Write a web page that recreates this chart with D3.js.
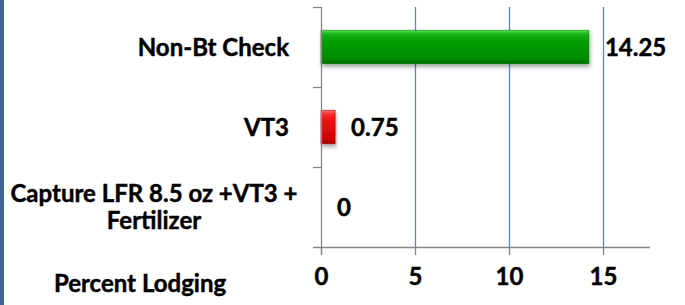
<!DOCTYPE html>
<html>
<head>
<meta charset="utf-8">
<script src="https://cdn.jsdelivr.net/npm/d3@7"></script>
<style>
  body { margin: 0; background: #fff; }
  svg { display: block; font-family: Lato, "Open Sans", sans-serif; font-weight: bold; }
  text { stroke: #000; stroke-width: 0.45px; }
</style>
</head>
<body>
<svg width="685" height="305"></svg>
<script>
// chart data
const categories = ['Non-Bt Check', 'VT3', 'Capture LFR 8.5 oz +VT3 +|Fertilizer'];
const values = [14.25, 0.75, 0];
const barColors = ['green', 'red', 'red'];
const xTicks = [0, 5, 10, 15];
const axisTitle = 'Percent Lodging';

const svg = d3.select('svg');
const width = 685, height = 305;
const fontSize = 24;

// left blue edge strip
svg.append('rect').attr('x', 0).attr('y', 0).attr('width', 4).attr('height', height).attr('fill', '#41679a');

const plot = { left: 321, right: 650, top: 7, bottom: 247 };

const x = d3.scaleLinear().domain([0, 17.5]).range([plot.left, plot.right]);
const y = d3.scaleBand().domain(categories).range([plot.top, plot.bottom]).paddingInner(0.58).paddingOuter(0.29);

const defs = svg.append('defs');
const grads = {
  green: ['#5be65b', '#17b417', '#06a006', '#048a04', '#036a03'],
  red: ['#ff7a7a', '#ff2a2a', '#f01010', '#d00000', '#a00000']
};
Object.entries(grads).forEach(([k, c]) => {
  const g = defs.append('linearGradient').attr('id', 'grad-' + k).attr('x1', 0).attr('y1', 0).attr('x2', 0).attr('y2', 1);
  [[0, c[0]], [0.12, c[1]], [0.3, c[2]], [0.85, c[3]], [1, c[4]]].forEach(([o, col]) => {
    g.append('stop').attr('offset', o).attr('stop-color', col);
  });
});
const shadow = defs.append('filter').attr('id', 'shadow').attr('x', -0.1).attr('y', -0.3).attr('width', 1.3).attr('height', 1.8);
shadow.append('feGaussianBlur').attr('in', 'SourceAlpha').attr('stdDeviation', 2);
shadow.append('feOffset').attr('dx', 1).attr('dy', 3).attr('result', 'b');
shadow.append('feComponentTransfer').append('feFuncA').attr('type', 'linear').attr('slope', 0.35);
const merge = shadow.append('feMerge');
merge.append('feMergeNode');
merge.append('feMergeNode').attr('in', 'SourceGraphic');

// gridlines
svg.append('g')
  .selectAll('line')
  .data(xTicks.filter(d => d > 0))
  .join('line')
  .attr('x1', d => x(d) + 0.5).attr('x2', d => x(d) + 0.5)
  .attr('y1', plot.top).attr('y2', plot.bottom)
  .attr('stroke', '#5b87c5').attr('stroke-width', 1.3);

// bars
const bars = svg.append('g').selectAll('g').data(values).join('g');
bars.filter(d => d > 0)
  .append('rect')
  .attr('x', x(0))
  .attr('y', (d, i) => y(categories[i]))
  .attr('width', d => x(d) - x(0))
  .attr('height', y.bandwidth())
  .attr('fill', (d, i) => `url(#grad-${barColors[i]})`)
  .attr('stroke', (d, i) => barColors[i] === 'green' ? '#0a7a0a' : '#b00000')
  .attr('stroke-width', 0.6)
  .attr('filter', 'url(#shadow)');

// value labels
svg.append('g').selectAll('text').data(values).join('text')
  .attr('x', d => x(d) + 16)
  .attr('y', (d, i) => y(categories[i]) + y.bandwidth() / 2)
  .attr('dy', '0.36em')
  .attr('font-size', fontSize)
  .attr('fill', '#000')
  .text(d => d);

// x axis
const xAxis = svg.append('g')
  .attr('transform', `translate(0,${plot.bottom})`)
  .call(d3.axisBottom(x).tickValues(xTicks).tickSize(8).tickPadding(13).tickSizeOuter(0));
xAxis.select('.domain').remove();
xAxis.append('line').attr('x1', plot.left - 8).attr('x2', plot.right).attr('y1', 0.5).attr('y2', 0.5).attr('stroke', '#868686').attr('stroke-width', 1.3);
xAxis.selectAll('.tick line').attr('stroke', '#868686').attr('stroke-width', 1.3);
xAxis.selectAll('.tick text').attr('font-size', fontSize).attr('font-family', 'Lato, sans-serif').attr('font-weight', 'bold').attr('fill', '#000');

// y axis line and ticks between categories
const yAxis = svg.append('g');
yAxis.append('line').attr('x1', plot.left + 0.5).attr('x2', plot.left + 0.5).attr('y1', plot.top).attr('y2', plot.bottom + 8).attr('stroke', '#868686').attr('stroke-width', 1.3);
const step = (plot.bottom - plot.top) / categories.length;
yAxis.selectAll('line.t').data(d3.range(categories.length)).join('line').attr('class', 't')
  .attr('x1', plot.left - 8).attr('x2', plot.left)
  .attr('y1', i => plot.top + i * step + 0.5).attr('y2', i => plot.top + i * step + 0.5)
  .attr('stroke', '#868686').attr('stroke-width', 1.3);

// category labels
categories.forEach((c, i) => {
  const lines = c.split('|');
  const cy = y(c) + y.bandwidth() / 2;
  const lh = 27;
  const t = svg.append('text').attr('font-size', fontSize).attr('fill', '#000');
  if (lines.length === 1) {
    t.attr('x', 289).attr('y', cy).attr('dy', '0.36em').attr('text-anchor', 'end').text(c);
  } else {
    t.attr('text-anchor', 'middle');
    lines.forEach((l, j) => {
      t.append('tspan').attr('x', 154).attr('y', cy + (j - (lines.length - 1) / 2) * lh).attr('dy', '0.36em').text(l);
    });
  }
});

// axis title
svg.append('text').attr('x', 140).attr('y', 292).attr('text-anchor', 'middle').attr('font-size', fontSize).attr('fill', '#000').text(axisTitle);
</script>
</body>
</html>
